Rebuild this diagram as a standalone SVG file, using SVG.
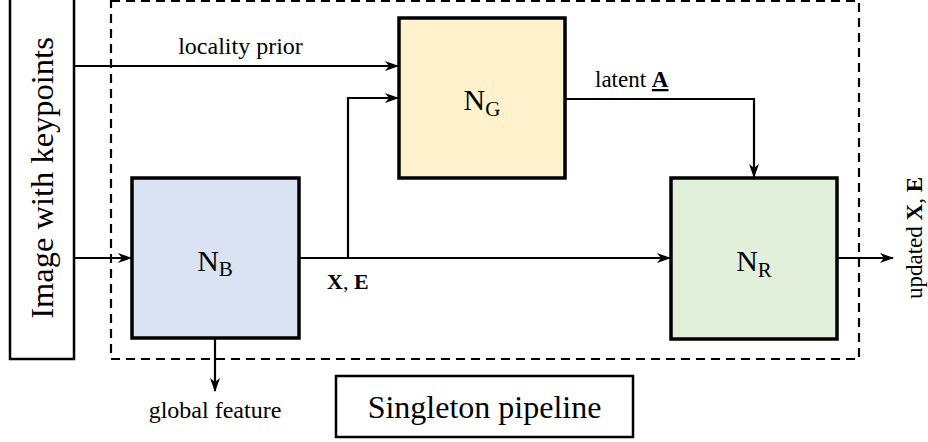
<svg xmlns="http://www.w3.org/2000/svg" width="928" height="442" viewBox="0 0 928 442">
<style>
  .txt { font-family: "Liberation Serif", "Times New Roman", serif; fill: #000; }
  .box { stroke: #000; stroke-width: 3.5; }
  .plain { fill: #fff; stroke: #000; stroke-width: 2.5; }
  .conn { fill: none; stroke: #000; stroke-width: 2.2; }
  .bold { font-weight: bold; }
</style>
<defs>
  <marker id="arr" viewBox="0 0 14 10" refX="13" refY="5" markerWidth="14" markerHeight="10" markerUnits="userSpaceOnUse" orient="auto">
    <path d="M0,0 L14,5 L0,10 L4,5 z" fill="#000"/>
  </marker>
</defs>
<rect width="928" height="442" fill="#fff"/>

<g id="pipeline-frame">
  <rect x="111" y="1" width="748" height="358" fill="none" stroke="#000" stroke-width="2.2" stroke-dasharray="9,6"/>
</g>

<g id="image-input">
  <rect class="plain" x="10" y="-2" width="64" height="361"/>
  <text class="txt" font-size="32.5" text-anchor="middle" transform="translate(53,178) rotate(-90)">Image with keypoints</text>
</g>

<g id="node-NB">
  <rect class="box" x="132" y="178" width="167" height="160" fill="#dae3f3"/>
  <text class="txt" x="215" y="271" font-size="30" text-anchor="middle">N<tspan font-size="21" dy="5">B</tspan></text>
</g>

<g id="node-NG">
  <rect class="box" x="399" y="18" width="166" height="160" fill="#fff2cc"/>
  <text class="txt" x="482" y="110" font-size="30" text-anchor="middle">N<tspan font-size="21" dy="6">G</tspan></text>
</g>

<g id="node-NR">
  <rect class="box" x="671" y="178" width="166" height="161" fill="#e2efda"/>
  <text class="txt" x="754" y="271" font-size="30" text-anchor="middle">N<tspan font-size="21" dy="6">R</tspan></text>
</g>

<g id="singleton-label">
  <rect class="plain" x="336" y="376" width="297" height="61"/>
  <text class="txt" x="484.5" y="418" font-size="32" text-anchor="middle">Singleton pipeline</text>
</g>

<g id="connectors">
  <path class="conn" d="M74,66 H398" marker-end="url(#arr)"/>
  <path class="conn" d="M74,258 H131" marker-end="url(#arr)"/>
  <path class="conn" d="M299,258 H670" marker-end="url(#arr)"/>
  <path class="conn" d="M348,258 V98 H398" marker-end="url(#arr)"/>
  <path class="conn" d="M565,99 H754 V177" marker-end="url(#arr)"/>
  <path class="conn" d="M837,258 H893" marker-end="url(#arr)"/>
  <path class="conn" d="M215,338 V391" marker-end="url(#arr)"/>
</g>

<g id="labels">
  <text class="txt" x="240.5" y="54" font-size="24" text-anchor="middle">locality prior</text>
  <text class="txt" x="595" y="87" font-size="23">latent <tspan class="bold" text-decoration="underline">A</tspan></text>
  <text class="txt bold" x="327" y="289" font-size="22">X<tspan font-weight="normal">,</tspan> E</text>
  <text class="txt" x="215" y="418" font-size="24" text-anchor="middle">global feature</text>
  <text class="txt" font-size="23" text-anchor="middle" transform="translate(922,238) rotate(-90)">updated <tspan class="bold">X</tspan>, <tspan class="bold">E</tspan></text>
</g>
</svg>
